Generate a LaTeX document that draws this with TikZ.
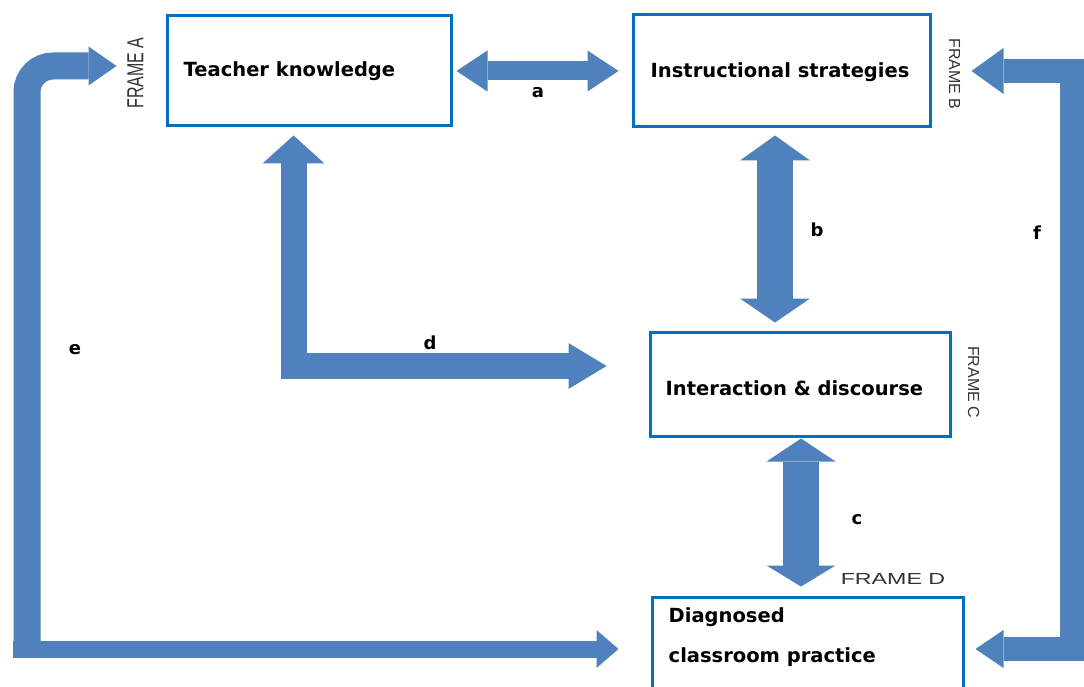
\documentclass[tikz,border=0pt]{standalone}
\usepackage{graphicx}
\usepackage{fontspec}
\setmainfont{DejaVu Sans}
\newfontfamily\framefont{Liberation Sans}
\usetikzlibrary{arrows.meta,positioning,calc}
\definecolor{arrowblue}{RGB}{79,129,189}
\definecolor{boxblue}{RGB}{0,112,192}
\tikzset{
	framebox/.style={draw=boxblue, line width=3pt, fill=white, inner sep=0pt},
	boxtext/.style={inner sep=0pt, anchor=west, align=left, font=\fontsize{19.5}{24}\selectfont\bfseries},
	arrowlbl/.style={inner sep=0pt, font=\fontsize{18}{20}\selectfont\bfseries},
	framelbl/.style={inner sep=0pt, text=black!80, font=\framefont\fontsize{16}{18}\selectfont},
	blockarrow/.style={draw=arrowblue, line join=miter},
	heads/.style n args={4}{arrows={Triangle[width=#1,length=#2,line width=0pt]-Triangle[width=#3,length=#4,line width=0pt]}},
	endhead/.style 2 args={arrows={-Triangle[width=#1,length=#2,line width=0pt]}},
}
\begin{document}
\begin{tikzpicture}[x=1pt,y=-1pt]
	\clip (0,0) rectangle (1084,687);
	\fill[white] (0,0) rectangle (1084,687);
	\node[framebox, minimum width=284pt, minimum height=110pt] (tk) at (309,71) {};
	\node[framebox, minimum width=297pt, minimum height=112pt] (is) at (781.5,71) {};
	\node[framebox, minimum width=300pt, minimum height=104pt] (id) at (800,384) {};
	\node[framebox, minimum width=311pt, minimum height=104pt] (dc) at (807.5,649) {};
	\node[boxtext, right=18pt of tk.west] (tktext) {Teacher knowledge};
	\node[boxtext, right=19pt of is.west, yshift=-1pt] (istext) {Instructional strategies};
	\node[boxtext, right=17pt of id.west, yshift=-4pt] (idtext) {Interaction \& discourse};
	\node[boxtext, right=18pt of dc.west, yshift=12pt, font=\fontsize{19.5}{40}\selectfont\bfseries] (dctext) {Diagnosed\\classroom practice};
	\node[framelbl, rotate=90] (fa) at ([xshift=-30pt,yshift=-2pt]tk.west) {\scalebox{1}[1.45]{FRAME A}};
	\node[framelbl, rotate=-90] (fb) at ([xshift=23pt,yshift=-3pt]is.east) {FRAME B};
	\node[framelbl, rotate=-90] (fc) at ([xshift=22pt,yshift=2pt]id.east) {FRAME C};
	\node[framelbl] (fd) at ([xshift=85.5pt,yshift=17pt]dc.north) {\scalebox{1.45}[1]{FRAME D}};
	\coordinate (ebend) at (27,649);
	\coordinate (fbend) at (1071.5,649);
	\draw[blockarrow, line width=19pt, heads={41pt}{31pt}{41pt}{31pt}, shorten <=4pt, shorten >=13pt] (tk.east) -- (is.west);
	\draw[blockarrow, line width=36pt, heads={70pt}{25pt}{70pt}{24pt}, shorten <=7pt, shorten >=8pt] ([xshift=-6.5pt]is.south) -- ([xshift=-25pt]id.north);
	\draw[blockarrow, line width=36pt, heads={69pt}{23pt}{69pt}{21pt}, shorten <=1pt, shorten >=9pt] ([xshift=1pt]id.south) -- ([xshift=-6.5pt]dc.north);
	\draw[blockarrow, line width=26pt, heads={62pt}{28pt}{46pt}{38pt}, shorten <=8pt] ([xshift=-15.5pt]tk.south) |- ([xshift=-42pt,yshift=18pt]id.west);
	\draw[blockarrow, line width=27pt, rounded corners=26pt, endhead={39pt}{28pt}] ([yshift=-8.5pt]ebend) |- ([xshift=-49pt,yshift=5pt]tk.west);
	\draw[blockarrow, line width=17pt, endhead={38pt}{22pt}] ([xshift=-14pt]ebend) -- ([xshift=-32pt]dc.west);
	\draw[blockarrow, line width=24pt, heads={46pt}{32pt}{38pt}{28pt}] ([xshift=40pt]is.east) -| (fbend) -- ([xshift=11pt]dc.east);
	\node[arrowlbl] (la) at (538,93) {a};
	\node[arrowlbl] (lb) at (817,230) {b};
	\node[arrowlbl] (lc) at (857,520) {c};
	\node[arrowlbl] (ld) at (430,343) {d};
	\node[arrowlbl] (le) at (75,350) {e};
	\node[arrowlbl] (lf) at (1037,233) {f};
\end{tikzpicture}
\end{document}
